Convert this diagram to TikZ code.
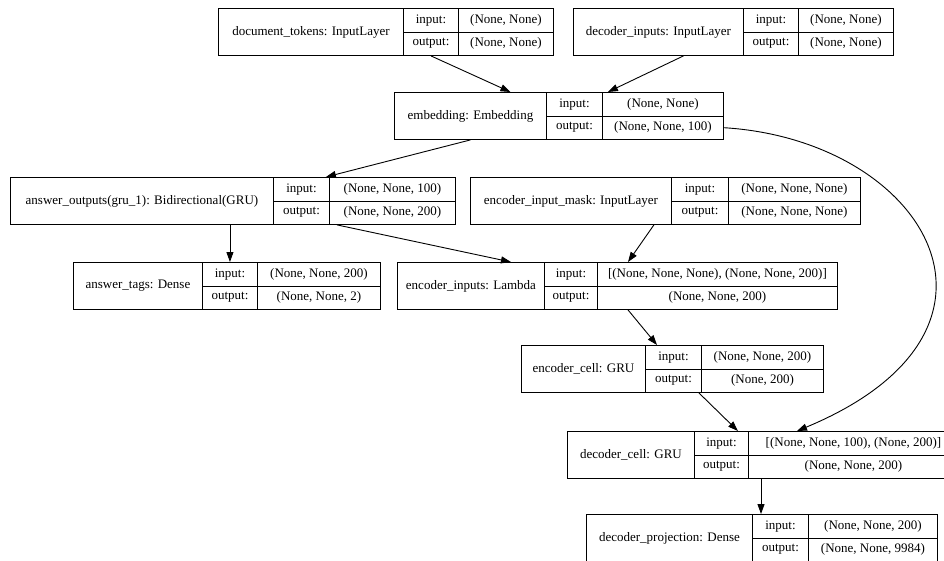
\documentclass[tikz,border=0pt]{standalone}
\usepackage{fontspec}
\setmainfont{Liberation Serif}
\usetikzlibrary{arrows.meta}

\tikzset{
  cell/.style={draw, line width=0.9pt, inner sep=0pt, anchor=north west,
    minimum height=23.5pt, font=\fontsize{13}{15}\selectfont},
  arr/.style={-{Triangle[length=10pt,width=7pt]}, line width=0.9pt}
}

% Caja de una capa: id, columnas x, y superior, titulo, entrada, salida
\newcommand{\layerbox}[9]{%
  \node[cell, minimum width={(#3-#2)*1pt}, minimum height=47pt] (#1-title) at (#2,#6) {#7};
  \node[cell, minimum width={(#4-#3)*1pt}] (#1-inl) at (#3,#6) {input:};
  \node[cell, minimum width={(#4-#3)*1pt}] (#1-outl) at (#3,#6+23.5) {output:};
  \node[cell, minimum width={(#5-#4)*1pt}] (#1-inv) at (#4,#6) {#8};
  \node[cell, minimum width={(#5-#4)*1pt}] (#1-outv) at (#4,#6+23.5) {#9};
}

\begin{document}
\begin{tikzpicture}[x=1pt, y=-1pt]
        % Marco del dibujo
        \useasboundingbox (0,0) rectangle (944,560);
        \fill[white] (0,0) rectangle (944,560);
        \clip (0,0) rectangle (944,560);

        % Capas de entrada
        \layerbox{doctok}{218}{403}{458}{553}{8}{document\_tokens: InputLayer}{(None, None)}{(None, None)}
        \layerbox{decin}{573}{743}{798}{893}{8}{decoder\_inputs: InputLayer}{(None, None)}{(None, None)}

        % Embedding
        \layerbox{emb}{394}{546}{602}{723}{92}{embedding: Embedding}{(None, None)}{(None, None, 100)}

        % Segunda fila
        \layerbox{ansout}{10}{273}{329}{455}{177}{answer\_outputs(gru\_1): Bidirectional(GRU)}{(None, None, 100)}{(None, None, 200)}
        \layerbox{encmask}{470}{671}{728}{860}{177}{encoder\_input\_mask: InputLayer}{(None, None, None)}{(None, None, None)}

        % Tercera fila
        \layerbox{anstags}{73}{202}{257}{380}{262}{answer\_tags: Dense}{(None, None, 200)}{(None, None, 2)}
        \layerbox{encin}{397}{544}{597}{837}{262}{encoder\_inputs: Lambda}{[(None, None, None), (None, None, 200)]}{(None, None, 200)}

        % Celdas GRU y proyeccion
        \layerbox{enccell}{521}{645}{701}{823}{345}{encoder\_cell: GRU}{(None, None, 200)}{(None, 200)}
        \layerbox{deccell}{567}{694}{748}{958}{431}{decoder\_cell: GRU}{[(None, None, 100), (None, 200)]}{(None, None, 200)}
        \layerbox{decproj}{586}{752}{808}{937}{514}{decoder\_projection: Dense}{(None, None, 200)}{(None, None, 9984)}

        % Conexiones
        \draw[arr] (doctok-outl.south) -- ([xshift=40pt]emb-title.north);
        \draw[arr] ([xshift=25pt]decin-title.south) -- ([xshift=5pt]emb-inl.north east);
        \draw[arr] (emb-title.south) -- ([xshift=-4pt]ansout-inl.north east);
        \draw[arr] (emb-outv.east) .. controls (925,140) and (1040,330) .. ([xshift=49pt]deccell-inv.north west);
        \draw[arr] (anstags-inl.north |- ansout-title.south) -- (anstags-inl.north);
        \draw[arr] ([xshift=8pt]ansout-outv.south west) -- ([xshift=40pt]encin-title.north);
        \draw[arr] ([xshift=-18pt]encmask-title.south east) -- ([xshift=31pt]encin-inv.north west);
        \draw[arr] ([xshift=31pt]encin-outv.south west) -- ([xshift=12pt]enccell-inl.north west);
        \draw[arr] ([xshift=-3pt]enccell-outl.south east) -- ([xshift=-11pt]deccell-inl.north east);
        \draw[arr] ([xshift=13pt]deccell-outv.south west) -- ([xshift=9pt]decproj-inl.north west);
\end{tikzpicture}
\end{document}
